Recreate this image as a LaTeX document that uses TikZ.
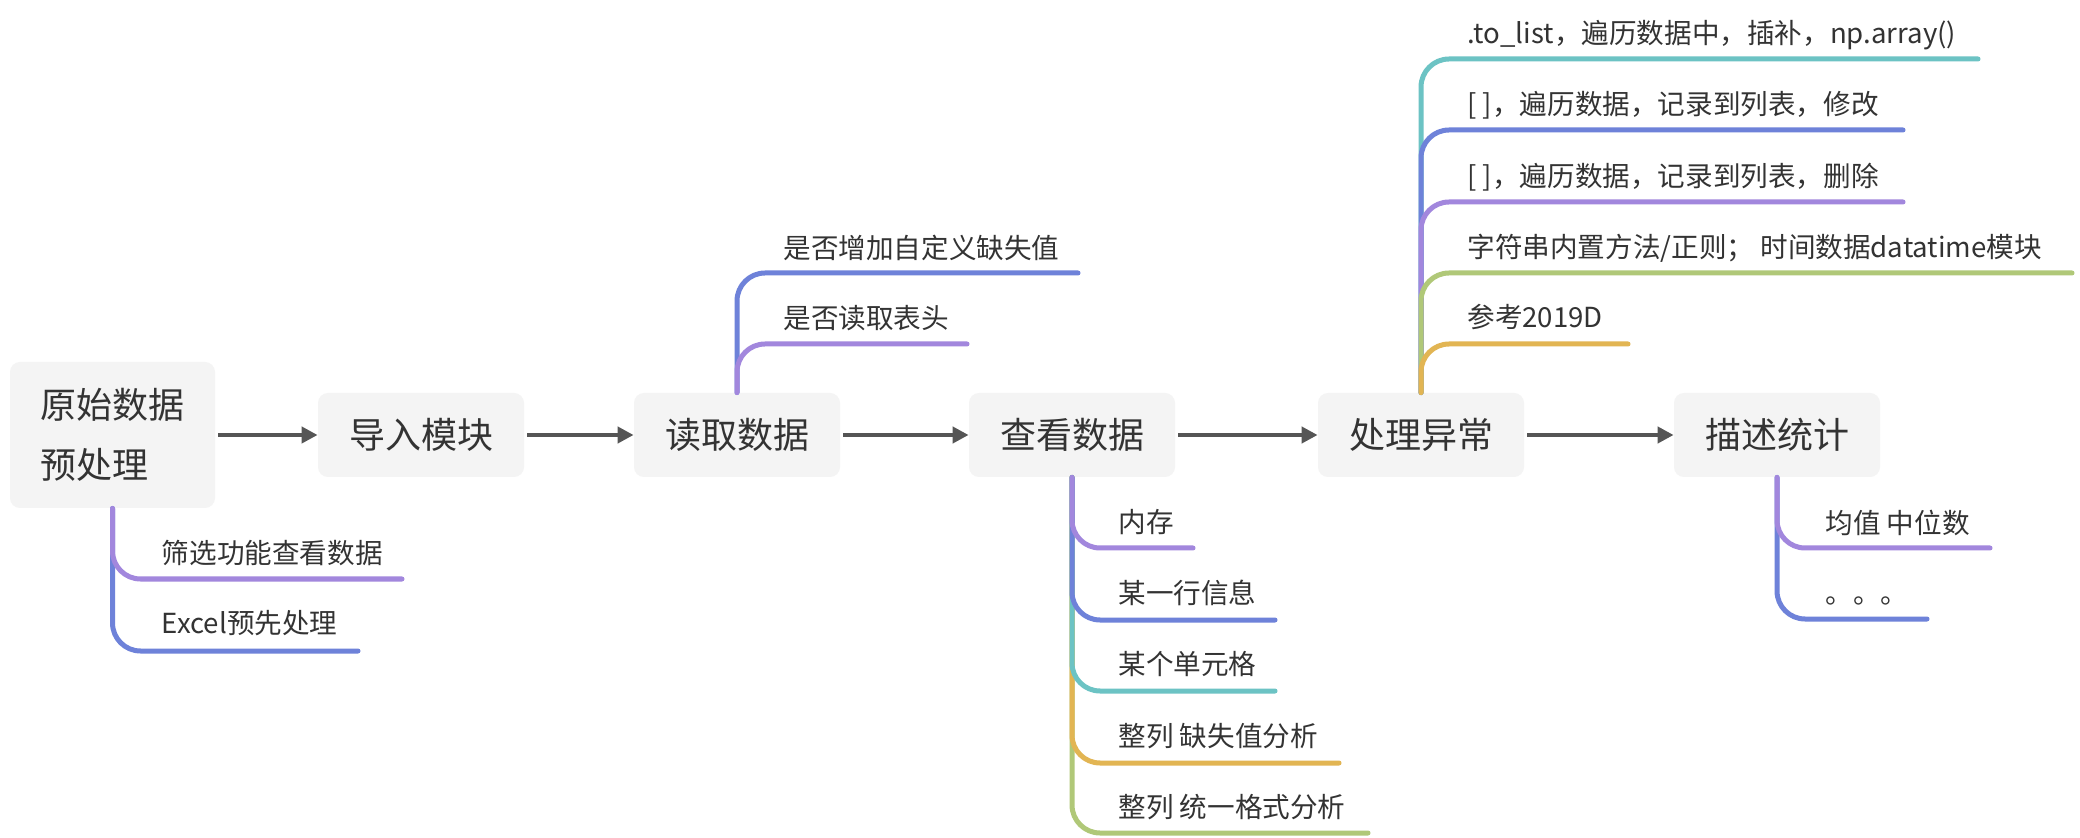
\documentclass[tikz,border=0pt]{standalone}
\usepackage{fontspec}
\setmainfont{Noto Sans CJK SC}
\usetikzlibrary{arrows.meta}
\definecolor{cTeal}{HTML}{6CC3C4}
\definecolor{cBlue}{HTML}{6E82D9}
\definecolor{cPurple}{HTML}{A287DD}
\definecolor{cGreen}{HTML}{B0C878}
\definecolor{cOrange}{HTML}{E2B553}
\definecolor{boxfill}{HTML}{F4F4F4}
\definecolor{arrowc}{HTML}{555555}
\definecolor{txt}{HTML}{333333}
\tikzset{
  topic/.style={rectangle, rounded corners=5pt, fill=boxfill, text=txt,
    font=\fontsize{18pt}{30pt}\selectfont, minimum width=103pt,
    minimum height=42pt, inner sep=0pt, align=center},
  arr/.style={draw=arrowc, line width=2pt, -{Triangle[length=8pt,width=8pt]}, shorten <=1.5pt},
  br/.style={line width=2.5pt, line cap=round, rounded corners=14pt},
  lbl/.style={anchor=west, inner sep=0pt, text=txt,
    font=\fontsize{13.8pt}{16pt}\selectfont, text height=12.1pt, text depth=1.7pt}
}
\begin{document}
\begin{tikzpicture}[x=0.5pt,y=-0.5pt]
\fill[white] (0,0) rectangle (2080,838);
\useasboundingbox (0,0) rectangle (2080,838);

% main topics
\node[topic, minimum width=102.5pt, minimum height=73pt, align=left] (n1) at (112.5,435) {原始数据\\预处理};
\node[topic] (n2) at (421,435) {导入模块};
\node[topic] (n3) at (737,435) {读取数据};
\node[topic] (n4) at (1072,435) {查看数据};
\node[topic] (n5) at (1421,435) {处理异常};
\node[topic] (n6) at (1777,435) {描述统计};

% arrows
\draw[arr] (n1) -- (n2);
\draw[arr] (n2) -- (n3);
\draw[arr] (n3) -- (n4);
\draw[arr] (n4) -- (n5);
\draw[arr] (n5) -- (n6);

% branch end coordinates
\coordinate (e1a) at (402,579);
\coordinate (e1b) at (358,651);
\coordinate (e3a) at (1078,273);
\coordinate (e3b) at (967,344);
\coordinate (e4a) at (1193,548);
\coordinate (e4b) at (1275,620);
\coordinate (e4c) at (1275,691);
\coordinate (e4d) at (1339,763);
\coordinate (e4e) at (1368,833);
\coordinate (e5a) at (1978,59);
\coordinate (e5b) at (1903,130);
\coordinate (e5c) at (1903,202);
\coordinate (e5d) at (2072,273);
\coordinate (e5e) at (1628,344);
\coordinate (e6a) at (1990,548);
\coordinate (e6b) at (1927,619);

% branches of n1
\draw[br, cBlue] (n1.south) |- (e1b);
\draw[br, cPurple] (n1.south) |- (e1a);
\node[lbl] (l1a) at (161.5,553) {筛选功能查看数据};
\node[lbl] (l1b) at (161.5,623) {Excel预先处理};

% branches of n3
\draw[br, cBlue] (n3.north) |- (e3a);
\draw[br, cPurple] (n3.north) |- (e3b);
\node[lbl] (l3a) at (783,248) {是否增加自定义缺失值};
\node[lbl] (l3b) at (783,318) {是否读取表头};

% branches of n4
\draw[br, cGreen] (n4.south) |- (e4e);
\draw[br, cOrange] (n4.south) |- (e4d);
\draw[br, cTeal] (n4.south) |- (e4c);
\draw[br, cBlue] (n4.south) |- (e4b);
\draw[br, cPurple] (n4.south) |- (e4a);
\node[lbl] (l4a) at (1118,522) {内存};
\node[lbl] (l4b) at (1118,593) {某一行信息};
\node[lbl] (l4c) at (1118,664) {某个单元格};
\node[lbl] (l4d) at (1118,736) {整列 缺失值分析};
\node[lbl] (l4e) at (1118,807) {整列 统一格式分析};

% branches of n5
\draw[br, cTeal] (n5.north) |- (e5a);
\draw[br, cBlue] (n5.north) |- (e5b);
\draw[br, cPurple] (n5.north) |- (e5c);
\draw[br, cGreen] (n5.north) |- (e5d);
\draw[br, cOrange] (n5.north) |- (e5e);
\node[lbl] (l5a) at (1467,33) {.to\_list，遍历数据中，插补，np.array()};
\node[lbl] (l5b) at (1467,104) {[ ]，遍历数据，记录到列表，修改};
\node[lbl] (l5c) at (1467,176) {[ ]，遍历数据，记录到列表，删除};
\node[lbl] (l5d) at (1467,247) {字符串内置方法/正则； 时间数据datatime模块};
\node[lbl] (l5e) at (1467,317) {参考2019D};

% branches of n6
\draw[br, cBlue] (n6.south) |- (e6b);
\draw[br, cPurple] (n6.south) |- (e6a);
\node[lbl] (l6a) at (1825,523) {均值 中位数};
\node[lbl] (l6b) at (1825,593) {。。。};
\end{tikzpicture}
\end{document}
